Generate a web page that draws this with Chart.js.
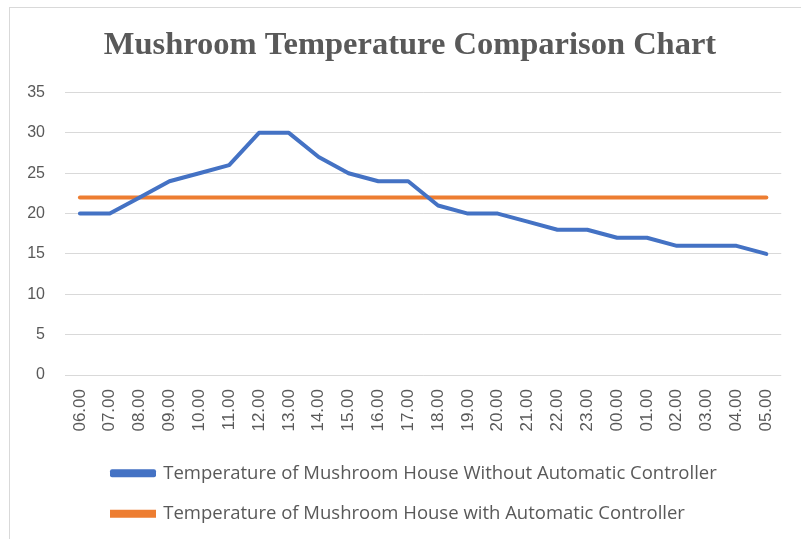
<!DOCTYPE html>
<html>
<head>
<meta charset="utf-8">
<script src="https://cdn.jsdelivr.net/npm/chart.js@4/dist/chart.umd.min.js"></script>
<style>
    html, body { margin: 0; padding: 0; background: #fff; }
    body { width: 801px; height: 539px; position: relative; overflow: hidden; }
    .frame { position: absolute; left: 9px; top: 7px; width: 820px; height: 560px; border: 1px solid #d9d9d9; }
    .chart-box { position: absolute; left: 10px; top: 8px; width: 791px; height: 531px; }
</style>
</head>
<body>
<div class="frame"></div>
<div class="chart-box"><canvas id="chart-temp"></canvas></div>
<script>
const HOURS = ['06.00', '07.00', '08.00', '09.00', '10.00', '11.00', '12.00', '13.00',
               '14.00', '15.00', '16.00', '17.00', '18.00', '19.00', '20.00', '21.00',
               '22.00', '23.00', '00.00', '01.00', '02.00', '03.00', '04.00', '05.00'];

const TEMP_WITHOUT = [20, 20, 22, 24, 25, 26, 30, 30, 27, 25, 24, 24,
                      21, 20, 20, 19, 18, 18, 17, 17, 16, 16, 16, 15];

const TEMP_WITH = [22, 22, 22, 22, 22, 22, 22, 22, 22, 22, 22, 22,
                   22, 22, 22, 22, 22, 22, 22, 22, 22, 22, 22, 22];

const Y_TICKS = [0, 5, 10, 15, 20, 25, 30, 35];

(function () {
    'use strict';

    Chart.defaults.font.family = '"Liberation Sans", Arial, sans-serif';
    Chart.defaults.color = '#595959';

    const gridColor = '#d9d9d9';
    const blue = '#4472c4';
    const orange = '#ed7d31';

    // Excel aligne les deux entrées de légende à gauche, à la même abscisse,
    // et centre le titre un peu à droite du milieu de la zone de tracé.
    const excelLayout = {
        id: 'excelLayout',
        afterLayout: function (chart) {
            const legend = chart.legend;
            legend.left = 102 - legend.options.labels.padding;

            const title = chart.titleBlock;
            title.left += 11;
            title.right += 11;
        }
    };

    new Chart(document.getElementById('chart-temp'), {
        type: 'line',
        data: {
            labels: HOURS,
            datasets: [
                {
                    label: 'Temperature of Mushroom House Without Automatic Controller',
                    data: TEMP_WITHOUT,
                    borderColor: blue,
                    backgroundColor: blue,
                    borderWidth: 4,
                    borderJoinStyle: 'round',
                    borderCapStyle: 'round',
                    pointRadius: 0,
                    tension: 0
                },
                {
                    label: 'Temperature of Mushroom House with Automatic Controller',
                    data: TEMP_WITH,
                    borderColor: orange,
                    backgroundColor: orange,
                    borderWidth: 4,
                    borderCapStyle: 'round',
                    pointRadius: 0,
                    tension: 0
                }
            ]
        },
        options: {
            responsive: true,
            maintainAspectRatio: false,
            animation: false,
            layout: { padding: { left: 0, right: 13, top: 0, bottom: 6 } },
            plugins: {
                title: {
                    display: true,
                    text: 'Mushroom Temperature Comparison Chart',
                    color: '#595959',
                    font: { family: '"Liberation Serif", "Times New Roman", serif', size: 32.5, weight: 'bold', lineHeight: 1.2 },
                    padding: { top: 18, bottom: 27.5 }
                },
                legend: {
                    position: 'bottom',
                    align: 'start',
                    labels: {
                        boxWidth: 42,
                        boxHeight: 4,
                        padding: 22,
                        color: '#595959',
                        font: { family: '"Open Sans", sans-serif', size: 18.5 }
                    }
                },
                tooltip: { enabled: false }
            },
            scales: {
                x: {
                    offset: true,
                    grid: { display: false, drawTicks: false },
                    border: { display: false },
                    ticks: {
                        minRotation: 90,
                        maxRotation: 90,
                        padding: 14,
                        autoSkip: false,
                        font: { size: 17 }
                    },
                    afterFit: function (scale) { scale.height = 67; }
                },
                y: {
                    min: 0,
                    max: 35,
                    afterBuildTicks: function (scale) {
                        scale.ticks = Y_TICKS.map(function (v) { return { value: v }; });
                    },
                    grid: { color: gridColor, lineWidth: 1, drawTicks: false },
                    border: { display: false },
                    ticks: { padding: 20, font: { size: 16 } },
                    afterFit: function (scale) { scale.width = 55; }
                }
            }
        },
        plugins: [excelLayout]
    });
})();
</script>
</body>
</html>
